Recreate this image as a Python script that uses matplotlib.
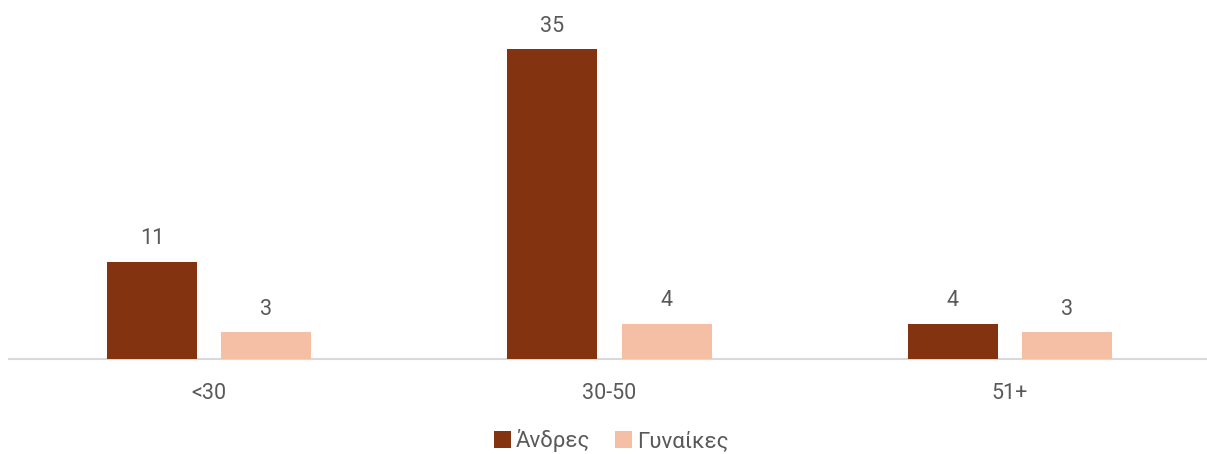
import matplotlib
matplotlib.use("Agg")
import matplotlib.pyplot as plt
import numpy as np

# data
groups = ['<30', '30-50', '51+']
men = [11, 35, 4]
women = [3, 4, 3]
series_names = ['Άνδρες', 'Γυναίκες']

dark = '#843310'
light = '#F5BFA5'
grey = '#595959'

plt.rcParams['font.family'] = ['Roboto', 'DejaVu Sans']

fig = plt.figure(figsize=(12.07, 4.54), dpi=100)
ax = fig.add_axes([9 / 1207, 95 / 454, 1201 / 1207, 354 / 454])

x = np.arange(len(groups))
w = 0.225
off = 0.1425
b1 = ax.bar(x - off, men, w, color=dark, label=series_names[0], zorder=3)
b2 = ax.bar(x + off, women, w, color=light, label=series_names[1], zorder=3)

for bars in (b1, b2):
    ax.bar_label(bars, padding=9, fontsize=15.5, color=grey)

ax.set_xlim(-0.5, 2.5)
ax.set_ylim(0, 40)
ax.set_yticks([])
ax.set_xticks(x)
ax.set_xticklabels(groups, fontsize=15.5, color=grey)
ax.tick_params(axis='x', length=0, pad=17)

for s in ['top', 'right', 'left']:
    ax.spines[s].set_visible(False)
ax.spines['bottom'].set_color('#D9D9D9')
ax.spines['bottom'].set_linewidth(1.5)

fig.legend(loc='center', bbox_to_anchor=(611 / 1207, 1 - 441 / 454), ncol=2,
           frameon=False, fontsize=16, labelcolor=grey, handlelength=0.8,
           handleheight=0.8, handletextpad=0.2, columnspacing=1.1)

fig.savefig('out.png', dpi=100)
